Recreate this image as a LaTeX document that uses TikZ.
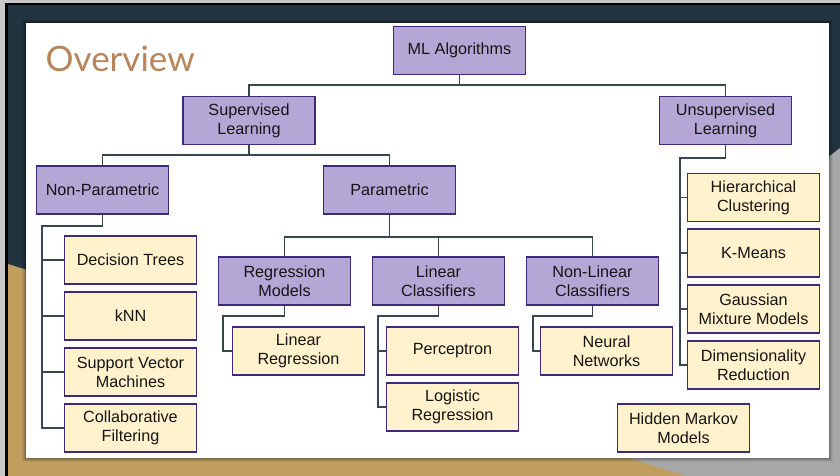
\documentclass[tikz,border=0pt]{standalone}
\usepackage{fontspec}
\setmainfont{Liberation Sans}
\newfontfamily\titlefont{Lato}
\definecolor{slate}{HTML}{22343F}
\definecolor{goldbg}{HTML}{BF9E5E}
\definecolor{graybg}{HTML}{A8A8A8}
\definecolor{framegray}{HTML}{C8C8C8}
\definecolor{purpfill}{HTML}{B4A7D6}
\definecolor{yelfill}{HTML}{FFF2CC}
\definecolor{boxline}{HTML}{3D2A78}
\definecolor{connline}{HTML}{37474F}
\definecolor{titlecol}{HTML}{B8845A}
\definecolor{txt}{HTML}{151515}
\tikzset{
  box/.style={draw=boxline, line width=1.4pt, minimum width=132pt, minimum height=48pt,
    inner sep=2pt, align=center, text=txt, font=\fontsize{16.2}{19}\selectfont},
  pbox/.style={box, fill=purpfill},
  ybox/.style={box, fill=yelfill},
  conn/.style={draw=connline, line width=1.6pt},
}
\begin{document}
\begin{tikzpicture}[x=1pt,y=-1pt]
\useasboundingbox (0,0) rectangle (840,476);
% background
\fill[framegray] (0,0) rectangle (840,476);
\fill[black] (5,3) rectangle (840,476);
\fill[slate] (8,5) rectangle (840,476);
\fill[graybg] (840,148) -- (840,476) -- (420,476) -- cycle;
\fill[goldbg] (8,264) -- (8,476) -- (686,476) -- cycle;
% slide shadow
\foreach \d/\o in {4/0.06,3/0.08,2/0.1,1/0.12}{
  \fill[black,opacity=\o] (26-\d,23-\d) rectangle (829+\d,458+\d);
}
\fill[white] (26,23) rectangle (829,458);
% title
\node[anchor=base west, inner sep=0pt, text=titlecol, font=\titlefont\fontsize{35}{35}\selectfont] (title) at (45.5,71.5) {Overview};
% nodes
\node[pbox] (ml) at (459.5,50.5) {ML Algorithms};
\node[pbox] (sup) at (249,120.5) {Supervised\\Learning};
\node[pbox] (unsup) at (725.5,120.5) {Unsupervised\\Learning};
\node[pbox] (np) at (102.5,190) {Non-Parametric};
\node[pbox] (par) at (389.5,190) {Parametric};
\node[pbox] (reg) at (284.5,281) {Regression\\Models};
\node[pbox] (lc) at (438.5,281) {Linear\\Classifiers};
\node[pbox] (nlc) at (592.5,281) {Non-Linear\\Classifiers};
\node[ybox] (dt) at (130.5,260) {Decision Trees};
\node[ybox] (knn) at (130.5,316) {kNN};
\node[ybox] (svm) at (130.5,372) {Support Vector\\Machines};
\node[ybox] (cf) at (130.5,428) {Collaborative\\Filtering};
\node[ybox] (linreg) at (298.5,351) {Linear\\Regression};
\node[ybox] (perc) at (452.5,351) {Perceptron};
\node[ybox] (logreg) at (452.5,407) {Logistic\\Regression};
\node[ybox] (nn) at (606.5,351) {Neural\\Networks};
\node[ybox] (hc) at (753.5,197.5) {Hierarchical\\Clustering};
\node[ybox] (km) at (753.5,253) {K-Means};
\node[ybox] (gmm) at (753.5,309) {Gaussian\\Mixture Models};
\node[ybox] (dr) at (753.5,365) {Dimensionality\\Reduction};
\node[ybox] (hmm) at (683.5,428) {Hidden Markov\\Models};
% connectors
\draw[conn] (ml.south) -- ++(0,10) -| (sup.north);
\draw[conn] (ml.south) -- ++(0,10) -| (unsup.north);
\draw[conn] (sup.south) -- ++(0,10) -| (np.north);
\draw[conn] (sup.south) -- ++(0,10) -| (par.north);
\draw[conn] (par.south) -- ++(0,22) -| (reg.north);
\draw[conn] (par.south) -- ++(0,22) -| (lc.north);
\draw[conn] (par.south) -- ++(0,22) -| (nlc.north);
% non-parametric
\draw[conn] (np.south) -- ++(0,11) -| ([xshift=-22pt]cf.west) -- (cf.west);
\draw[conn] (dt.west) -- ++(-22,0);
\draw[conn] (knn.west) -- ++(-22,0);
\draw[conn] (svm.west) -- ++(-22,0);
% regression
\draw[conn] (reg.south) -- ++(0,10) -| ([xshift=-9pt]linreg.west) -- (linreg.west);
% linear classifiers
\draw[conn] (lc.south) -- ++(0,10) -| ([xshift=-8pt]logreg.west) -- (logreg.west);
\draw[conn] (perc.west) -- ++(-8,0);
% non-linear
\draw[conn] (nlc.south) -- ++(0,10) -| ([xshift=-7pt]nn.west) -- (nn.west);
% unsupervised
\draw[conn] (unsup.south) -- ++(0,13) -| ([xshift=-7pt]dr.west) -- (dr.west);
\draw[conn] (hc.west) -- ++(-7,0);
\draw[conn] (km.west) -- ++(-7,0);
\draw[conn] (gmm.west) -- ++(-7,0);
\end{tikzpicture}
\end{document}
